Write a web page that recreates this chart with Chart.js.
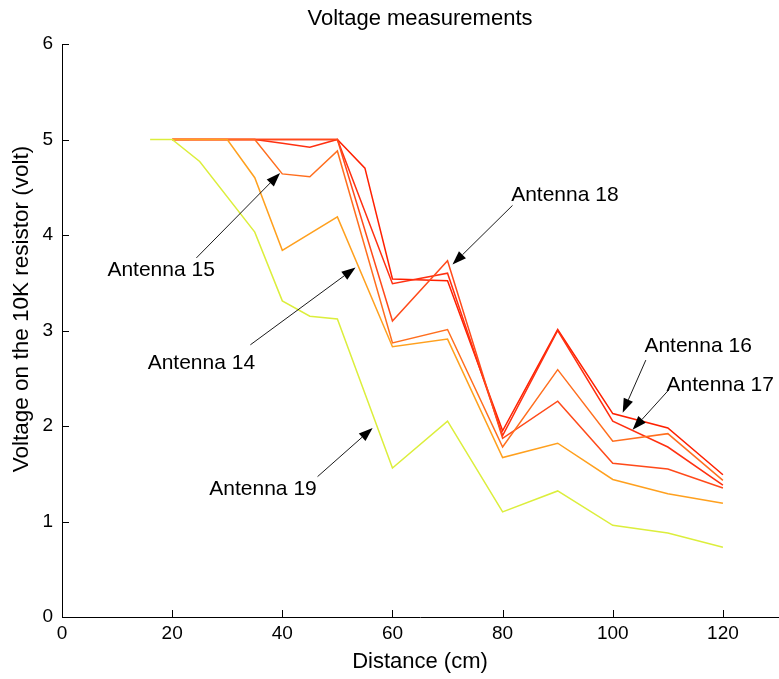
<!DOCTYPE html>
<html>
<head>
<meta charset="utf-8">
<title>Voltage measurements</title>
<script src="https://cdn.jsdelivr.net/npm/chart.js@4.4.1/dist/chart.umd.min.js"></script>
<style>
  html, body { margin: 0; padding: 0; background: #fff; }
  #wrap { width: 779px; height: 679px; }
</style>
</head>
<body>
<div id="wrap"><canvas id="voltageChart" width="779" height="679"></canvas></div>
<script>
// Distance (cm) and voltage (volt) per antenna
const dist14 = [20, 30, 35, 40, 50, 60, 70, 80, 90, 100, 110, 120];
const volt14 = [5.0, 5.0, 4.6, 3.84, 4.19, 2.83, 2.91, 1.67, 1.82, 1.44, 1.29, 1.19];

const dist15 = [20, 35, 40, 45, 50, 60, 70, 80, 90, 100, 110, 120];
const volt15 = [5.0, 5.0, 4.64, 4.61, 4.88, 2.87, 3.01, 1.78, 2.59, 1.84, 1.92, 1.43];

const dist16 = [20, 50, 55, 60, 70, 80, 90, 100, 110, 120];
const volt16 = [5.0, 5.0, 4.7, 3.54, 3.52, 1.95, 3.01, 2.13, 1.98, 1.49];

const dist17 = [20, 35, 40, 45, 50, 60, 70, 80, 90, 100, 110, 120];
const volt17 = [5.0, 5.0, 4.96, 4.92, 5.0, 3.49, 3.6, 1.9, 3.0, 2.05, 1.78, 1.38];

const dist18 = [20, 50, 60, 70, 80, 90, 100, 110, 120];
const volt18 = [5.0, 5.0, 3.1, 3.73, 1.87, 2.26, 1.61, 1.55, 1.35];

const dist19 = [16, 20, 25, 35, 40, 45, 50, 60, 70, 80, 90, 100, 110, 120];
const volt19 = [5.0, 5.0, 4.77, 4.03, 3.31, 3.15, 3.12, 1.56, 2.05, 1.1, 1.32, 0.96, 0.88, 0.73];

const antennaNames = ['Antenna 19', 'Antenna 14', 'Antenna 15', 'Antenna 18', 'Antenna 17', 'Antenna 16'];
const antennaDist = [dist19, dist14, dist15, dist18, dist17, dist16];
const antennaVolt = [volt19, volt14, volt15, volt18, volt17, volt16];
const lineColors = ['#dcee3c', '#ffa01e', '#ff6e1e', '#ff4a1a', '#ff3010', '#ff2000'];

const FONT = "'Liberation Sans', Arial, sans-serif";

// callout text centre, arrow tail and arrow head, in axis units
const callouts = [
    { text: 'Antenna 15', at: [18.0, 3.63], from: [24.4, 3.76], to: [39.6, 4.65] },
    { text: 'Antenna 14', at: [25.3, 2.66], from: [34.2, 2.85], to: [53.3, 3.66] },
    { text: 'Antenna 19', at: [36.5, 1.34], from: [46.4, 1.47], to: [56.4, 1.98] },
    { text: 'Antenna 18', at: [91.3, 4.42], from: [81.8, 4.31], to: [70.9, 3.69] },
    { text: 'Antenna 16', at: [115.5, 2.84], from: [106.0, 2.69], to: [101.8, 2.14] },
    { text: 'Antenna 17', at: [119.5, 2.43], from: [110.2, 2.38], to: [103.6, 1.96] }
];

const datasets = antennaNames.map((name, i) => ({
    label: name,
    data: antennaDist[i].map((d, j) => ({ x: d, y: antennaVolt[i][j] })),
    borderColor: lineColors[i],
    backgroundColor: lineColors[i],
    borderWidth: 1.5,
    pointRadius: 0,
    tension: 0,
    fill: false
}));

function drawArrow(ctx, x0, y0, x1, y1) {
    const ang = Math.atan2(y1 - y0, x1 - x0);
    const len = 14, half = 5;
    const bx = x1 - len * Math.cos(ang), by = y1 - len * Math.sin(ang);
    ctx.beginPath();
    ctx.moveTo(x0, y0);
    ctx.lineTo(bx, by);
    ctx.stroke();
    ctx.beginPath();
    ctx.moveTo(x1, y1);
    ctx.lineTo(bx + half * Math.sin(ang), by - half * Math.cos(ang));
    ctx.lineTo(bx - half * Math.sin(ang), by + half * Math.cos(ang));
    ctx.closePath();
    ctx.fill();
}

// MATLAB-style decorations: inward ticks, title, y label, arrows
const figureDecor = {
    id: 'figureDecor',
    afterDraw(chart) {
        const { ctx, chartArea, scales: { x, y } } = chart;
        ctx.save();
        ctx.strokeStyle = '#000';
        ctx.fillStyle = '#000';
        ctx.lineWidth = 1;

        x.ticks.forEach(t => {
            if (t.value === 0) return;
            const px = Math.round(x.getPixelForValue(t.value)) + 0.5;
            ctx.beginPath();
            ctx.moveTo(px, chartArea.bottom);
            ctx.lineTo(px, chartArea.bottom - 7);
            ctx.stroke();
        });
        y.ticks.forEach(t => {
            if (t.value === 0) return;
            const py = Math.round(y.getPixelForValue(t.value)) + 0.5;
            ctx.beginPath();
            ctx.moveTo(chartArea.left, py);
            ctx.lineTo(chartArea.left + 7, py);
            ctx.stroke();
        });

        ctx.textAlign = 'center';
        ctx.textBaseline = 'middle';
        ctx.font = '22px ' + FONT;
        ctx.fillText('Voltage measurements', (chartArea.left + chartArea.right) / 2, 19);

        ctx.save();
        ctx.translate(22, 309);
        ctx.rotate(-Math.PI / 2);
        ctx.font = '22.5px ' + FONT;
        ctx.fillText('Voltage on the 10K resistor (volt)', 0, 0);
        ctx.restore();

        ctx.font = '21px ' + FONT;
        ctx.strokeStyle = '#1a1a1a';
        ctx.fillStyle = '#000';
        callouts.forEach(c => {
            drawArrow(ctx,
                x.getPixelForValue(c.from[0]), y.getPixelForValue(c.from[1]),
                x.getPixelForValue(c.to[0]), y.getPixelForValue(c.to[1]));
            ctx.fillText(c.text, x.getPixelForValue(c.at[0]), y.getPixelForValue(c.at[1]));
        });
        ctx.restore();
    }
};

new Chart(document.getElementById('voltageChart'), {
    type: 'line',
    data: { datasets },
    options: {
        responsive: false,
        animation: false,
        layout: { padding: { top: 44, right: 1, left: 0, bottom: 0 } },
        plugins: {
            legend: { display: false },
            tooltip: { enabled: false },
            title: { display: false }
        },
        scales: {
            x: {
                type: 'linear',
                min: 0,
                max: 130,
                afterBuildTicks: scale => {
                    scale.ticks = scale.ticks.filter(t => t.value <= 120);
                },
                afterFit: scale => { scale.height = 62; },
                ticks: { stepSize: 20, color: '#000', padding: 5, font: { family: FONT, size: 19 } },
                grid: { display: false, drawTicks: false },
                border: { display: true, color: '#000', width: 1 },
                title: {
                    display: true,
                    text: 'Distance (cm)',
                    color: '#000',
                    font: { family: FONT, size: 22 },
                    padding: { top: 0, bottom: 4 }
                }
            },
            y: {
                type: 'linear',
                min: 0,
                max: 6,
                afterFit: scale => { scale.width = 62; },
                ticks: { stepSize: 1, color: '#000', padding: 9, font: { family: FONT, size: 19 } },
                grid: { display: false, drawTicks: false },
                border: { display: true, color: '#000', width: 1 }
            }
        }
    },
    plugins: [figureDecor]
});
</script>
</body>
</html>
